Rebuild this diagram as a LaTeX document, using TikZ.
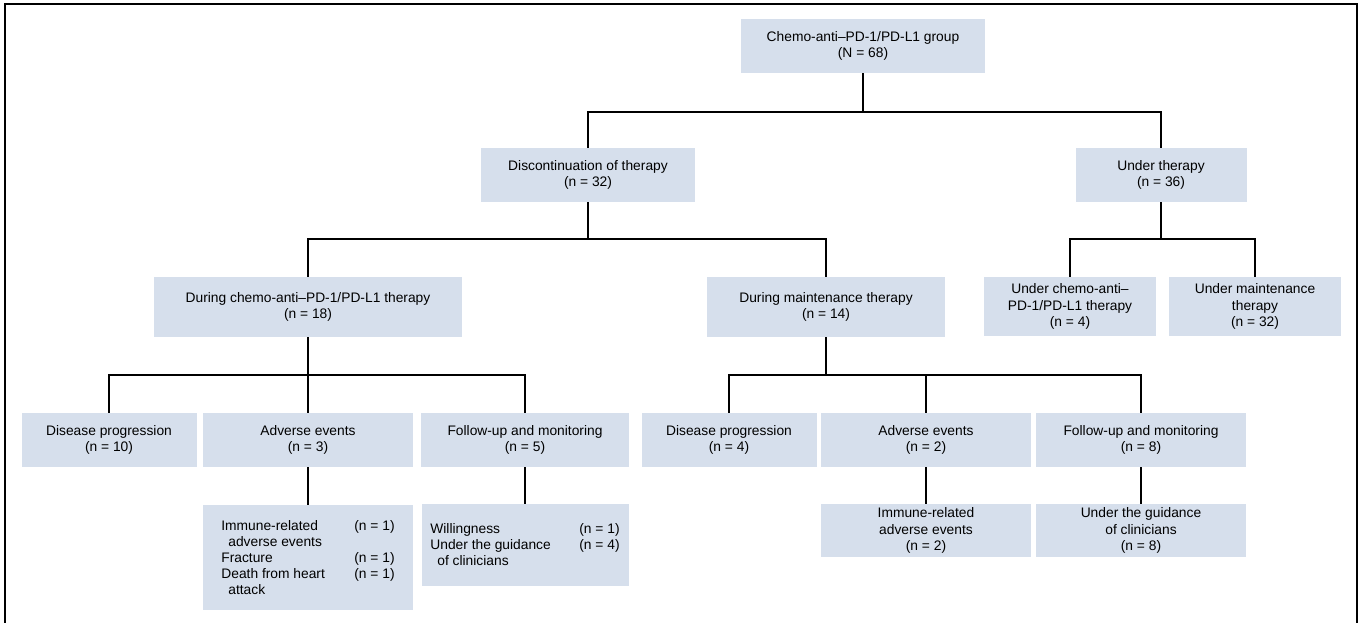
\documentclass[tikz,border=0pt]{standalone}
\usepackage{fontspec}
\setmainfont{Liberation Sans}
\definecolor{boxfill}{RGB}{214,223,236}
\newcommand{\boxfont}{\fontsize{13.8pt}{16.5pt}\selectfont}
\begin{document}
\begin{tikzpicture}[x=1pt,y=-1pt,
  box/.style={fill=boxfill, inner sep=0pt, align=center, anchor=center, font=\boxfont, minimum height=54pt},
  detail/.style={fill=boxfill, inner sep=0pt, align=left, anchor=center, font=\fontsize{13.8pt}{16pt}\selectfont},
  conn/.style={line width=2.3pt, line join=miter},
  frame/.style={line width=1.3pt}]
\useasboundingbox (0,0) rectangle (1363,623);
\draw[frame] (5,628) -- (5,4) -- (1357,4) -- (1357,628);

% level 1
\node[box, minimum width=244pt] (top) at (863,46) {Chemo-anti–PD-1/PD-L1 group\\(N = 68)};
% level 2
\node[box, minimum width=214pt] (disc) at (588,175) {Discontinuation of therapy\\(n = 32)};
\node[box, minimum width=171pt] (under) at (1161,175) {Under therapy\\(n = 36)};
% level 3
\node[box, minimum width=308pt, minimum height=60pt] (dchemo) at (308,307) {During chemo-anti–PD-1/PD-L1 therapy\\(n = 18)};
\node[box, minimum width=238pt, minimum height=60pt] (dmaint) at (826,307) {During maintenance therapy\\(n = 14)};
\node[box, minimum width=172pt, minimum height=59pt] (uchemo) at (1070,306.5) {Under chemo-anti–\\PD-1/PD-L1 therapy\\(n = 4)};
\node[box, minimum width=172pt, minimum height=59pt] (umaint) at (1255,306.5) {Under maintenance\\therapy\\(n = 32)};
% level 4
\node[box, minimum width=175pt] (dp1) at (109,440) {Disease progression\\(n = 10)};
\node[box, minimum width=210pt] (ae1) at (308,440) {Adverse events\\(n = 3)};
\node[box, minimum width=208pt] (fu1) at (525,440) {Follow-up and monitoring\\(n = 5)};
\node[box, minimum width=175pt] (dp2) at (729,440) {Disease progression\\(n = 4)};
\node[box, minimum width=210pt] (ae2) at (926,440) {Adverse events\\(n = 2)};
\node[box, minimum width=210pt] (fu2) at (1141,440) {Follow-up and monitoring\\(n = 8)};
% level 5
\node[detail, minimum width=210pt, minimum height=105pt] (ae1d) at (308,557.5)
  {\makebox[133pt][l]{Immune-related}\mbox{(n = 1)}\\
   \hspace*{7pt}adverse events\\
   \makebox[133pt][l]{Fracture}\mbox{(n = 1)}\\
   \makebox[133pt][l]{Death from heart}\mbox{(n = 1)}\\
   \hspace*{7pt}attack};
\node[detail, minimum width=207pt, minimum height=82pt] (fu1d) at (525,545)
  {\makebox[149pt][l]{Willingness}\mbox{(n = 1)}\\
   \makebox[149pt][l]{Under the guidance}\mbox{(n = 4)}\\
   \hspace*{7pt}of clinicians};
\node[box, minimum width=210pt, minimum height=53pt] (ae2d) at (926,530.5) {Immune-related\\adverse events\\(n = 2)};
\node[box, minimum width=210pt, minimum height=53pt] (fu2d) at (1141,530.5) {Under the guidance\\of clinicians\\(n = 8)};

% junctions
\coordinate (j1) at (863,112);
\coordinate (j2) at (588,239);
\coordinate (j3) at (1161,239);
\coordinate (j4) at (308,375);
\coordinate (j5) at (826,375);

% connectors
\draw[conn] (top.south) -- (j1);
\draw[conn] (disc.north) |- (j1) -| (under.north);
\draw[conn] (disc.south) -- (j2);
\draw[conn] (dchemo.north) |- (j2) -| (dmaint.north);
\draw[conn] (under.south) -- (j3);
\draw[conn] (uchemo.north) |- (j3) -| (umaint.north);
\draw[conn] (dchemo.south) -- (ae1.north);
\draw[conn] (dp1.north) |- (j4) -| (fu1.north);
\draw[conn] (dmaint.south) -- (j5);
\draw[conn] (dp2.north) |- (j5) -| (fu2.north);
\draw[conn] (ae2.north) -- (ae2.north |- j5);
\draw[conn] (ae1.south) -- (ae1d.north);
\draw[conn] (fu1.south) -- (fu1d.north);
\draw[conn] (ae2.south) -- (ae2d.north);
\draw[conn] (fu2.south) -- (fu2d.north);
\end{tikzpicture}
\end{document}
